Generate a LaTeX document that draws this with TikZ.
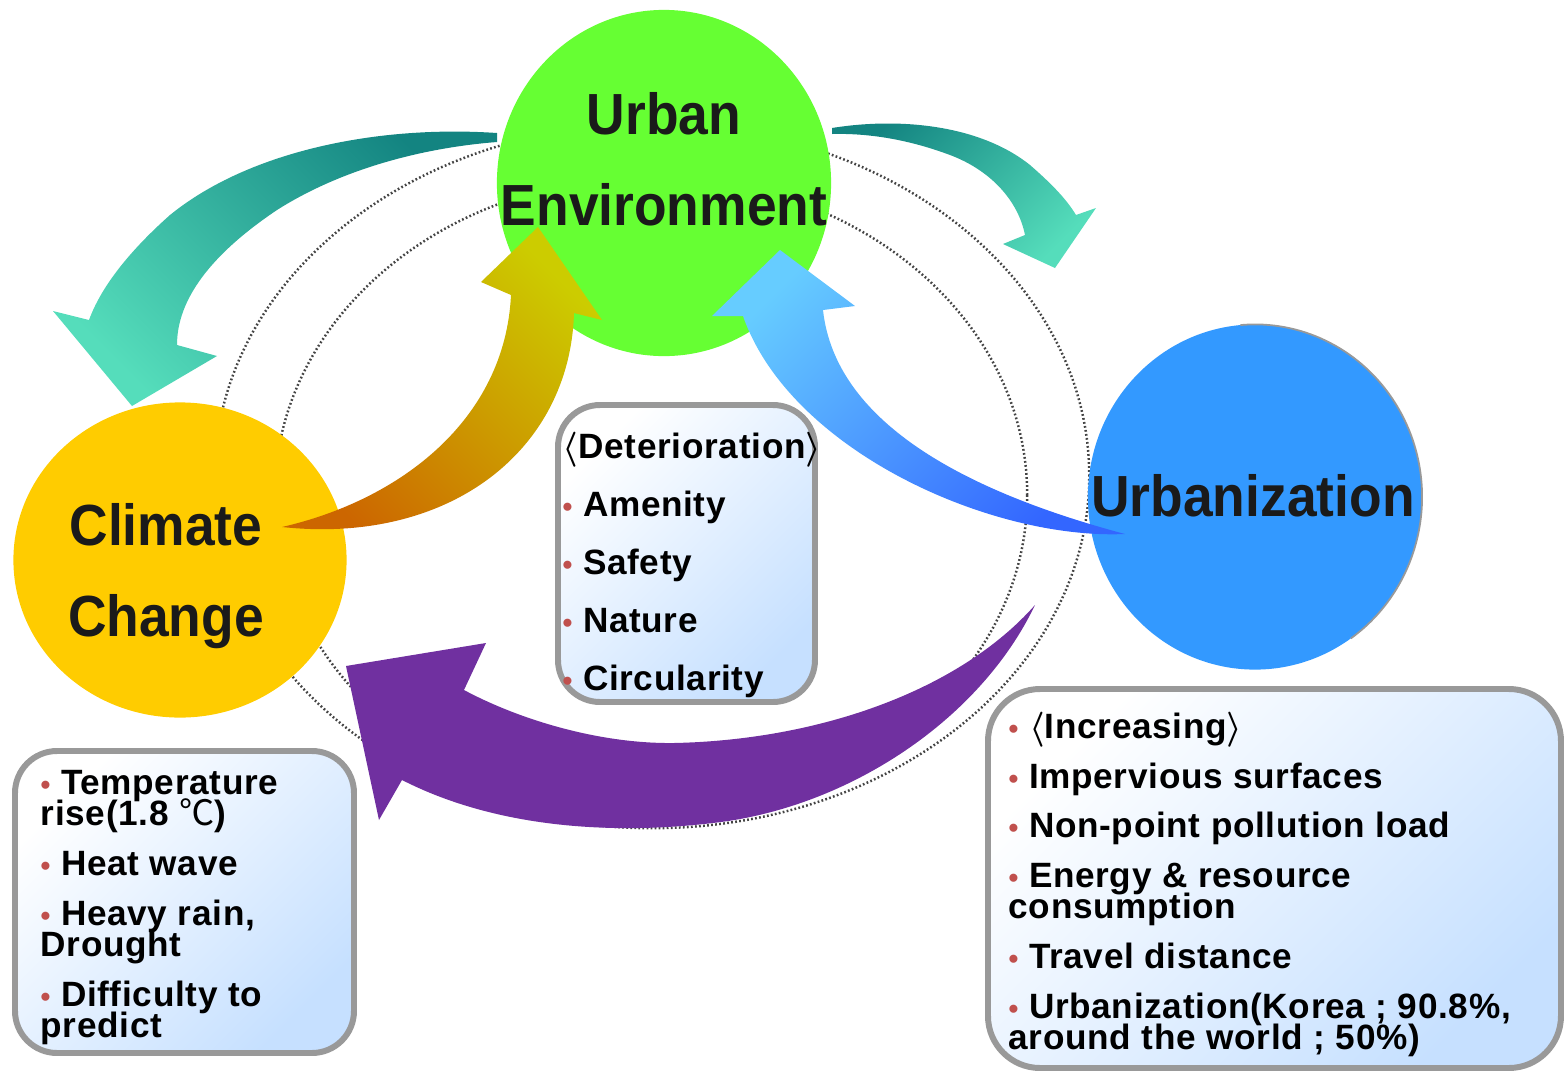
\documentclass[tikz,border=0pt]{standalone}
\usepackage{fontspec}
\setmainfont{Liberation Sans}
\newfontfamily\headfont{Liberation Sans Bold}[FakeStretch=0.92]
\newfontfamily\listfont{Liberation Sans}[LetterSpace=2]
\newfontfamily\cjkfont{Noto Sans CJK KR}
\usepackage{xcolor}
\usepackage{tikz}
\usetikzlibrary{shapes.geometric}

\definecolor{uegreen}{HTML}{66FF33}
\definecolor{ccyellow}{HTML}{FFCC00}
\definecolor{urblue}{HTML}{3399FF}
\definecolor{tealdark}{HTML}{138481}
\definecolor{teallight}{HTML}{55DDBB}
\definecolor{arryellow}{HTML}{CCCC00}
\definecolor{arrorange}{HTML}{CC6600}
\definecolor{bluelight}{HTML}{66CCFF}
\definecolor{bluedark}{HTML}{3366FF}
\definecolor{arrpurple}{HTML}{7030A0}
\definecolor{boxgray}{HTML}{999999}
\definecolor{boxblue}{HTML}{C6E0FF}
\definecolor{dotgray}{HTML}{444444}
\definecolor{dotred}{HTML}{C0504D}
\definecolor{txtblack}{HTML}{1A1A1A}

\newcommand{\tightlines}{\lineskiplimit=-20pt\relax}
\newcommand{\bul}{{\color{dotred}\fontsize{8}{8}\selectfont\textbullet}\ }
\newcommand{\lbr}{{\boldmath\(\langle\)}}
\newcommand{\rbr}{{\boldmath\(\rangle\)}}

\tikzstyle{blob} = [ellipse, inner sep=0pt, draw=none]
\tikzstyle{headlbl} = [font=\headfont\fontsize{16.5}{26}\selectfont, text=txtblack, align=center, inner sep=0pt]
\tikzstyle{orbit} = [draw=dotgray, line width=0.7pt, dash pattern=on 0.5pt off 0.65pt]
\tikzstyle{listbox} = [draw=boxgray, line width=1.7pt, rounded corners=0.42cm, top color=white, bottom color=boxblue, shading angle=45]
\tikzstyle{listtxt} = [font=\listfont\bfseries\fontsize{10}{8.8}\selectfont\tightlines, align=left, inner sep=0pt, anchor=north west]
\tikzstyle{dettxt} = [font=\listfont\bfseries\fontsize{10}{16.5}\selectfont, align=left, inner sep=0pt, anchor=north west]

\begin{document}
\begin{tikzpicture}[x=0.01cm, y=-0.01cm]
\useasboundingbox (0,0) rectangle (1565,1072);

%% dotted orbits
\draw[orbit] (652,476) ellipse [x radius=4.37cm, y radius=3.52cm];
\draw[orbit] (651,495) ellipse [x radius=3.76cm, y radius=3.18cm];

%% the three fields
\node[blob, fill=uegreen, minimum width=3.34cm, minimum height=3.46cm] (ue) at (664,183) {};
\node[blob, fill=ccyellow, minimum width=3.33cm, minimum height=3.15cm] (cc) at (180,560) {};
\node[blob, fill=urblue, minimum width=3.34cm, minimum height=3.45cm] (ur) at (1255,497) {};
\draw[gray!80, line width=0.5pt] (ur.center) ++(-55:1.67cm and 1.725cm)
  arc[start angle=-55, end angle=95, x radius=1.67cm, y radius=1.725cm];

%% block arrows
% environment -> climate
\path[top color=tealdark, bottom color=teallight, shading angle=-45]
  (497,133) .. controls (380,125) and (250,150) .. (170,215)
  .. controls (125,255) and (100,290) .. (89,320)
  -- (53,311) -- (132,406) -- (217,356) -- (177,345)
  .. controls (177,300) and (210,255) .. (277,210)
  .. controls (340,170) and (420,148) .. (497,142) -- cycle;
% environment -> urbanization
\path[top color=tealdark, bottom color=teallight, shading angle=45]
  (832,128) .. controls (900,117) and (980,125) .. (1030,165)
  .. controls (1053,185) and (1067,200) .. (1076,215)
  -- (1096,208) -- (1055,268) -- (1003,244) -- (1025,235)
  .. controls (1018,200) and (990,170) .. (950,155)
  .. controls (910,140) and (870,133) .. (832,134) -- cycle;
% climate -> environment
\path[top color=arryellow, bottom color=arrorange, shading angle=-45]
  (282,527) .. controls (400,500) and (505,420) .. (511,295)
  -- (481,282) -- (538,227) -- (602,320) -- (574,313)
  .. controls (570,450) and (450,545) .. (282,527) -- cycle;
% urbanization -> environment
\path[top color=bluelight, bottom color=bluedark, shading angle=45]
  (1125,534) .. controls (990,540) and (790,450) .. (743,316)
  -- (712,316) -- (780,250) -- (855,306) -- (823,310)
  .. controls (835,420) and (960,490) .. (1125,534) -- cycle;
% urbanization -> climate
\path[fill=arrpurple]
  (1035,605) .. controls (960,690) and (820,740) .. (674,743)
  .. controls (600,744) and (520,720) .. (464,690)
  -- (486,643) -- (346,666) -- (379,820) -- (402,780)
  .. controls (500,830) and (620,835) .. (721,822)
  .. controls (850,805) and (980,720) .. (1035,605) -- cycle;

%% labels
\node[headlbl] (uelbl) at (664,159) {Urban\\Environment};
\node[headlbl] (cclbl) at (166,576) {Climate\\Change};
\node[headlbl] (urlbl) at (1253,496) {Urbanization};

%% lists
\draw[listbox] (15,751) rectangle (354,1053);
\node[listtxt] (cclist) at (40,770) {\bul Temperature\\rise(1.8 {\cjkfont\mdseries ℃})\\[5.4pt]%
  \bul Heat wave\\[5.4pt]\bul Heavy rain,\\Drought\\[5.4pt]\bul Difficulty to\\predict};

\draw[listbox] (558,405) rectangle (815,702);
\node[dettxt] (uelist) at (562,431) {\lbr Deterioration\rbr\\\bul Amenity\\\bul Safety\\%
  \bul Nature\\\bul Circularity};

\draw[listbox, rounded corners=0.52cm] (988,689) rectangle (1561,1068);
\node[listtxt] (urlist) at (1008,711) {\bul \lbr Increasing\rbr\\[5.4pt]\bul Impervious surfaces\\[5.4pt]%
  \bul Non-point pollution load\\[5.4pt]\bul Energy \& resource\\consumption\\[5.4pt]%
  \bul Travel distance\\[5.4pt]\bul Urbanization(Korea ; 90.8\%,\\around the world ; 50\%)};
\end{tikzpicture}
\end{document}
